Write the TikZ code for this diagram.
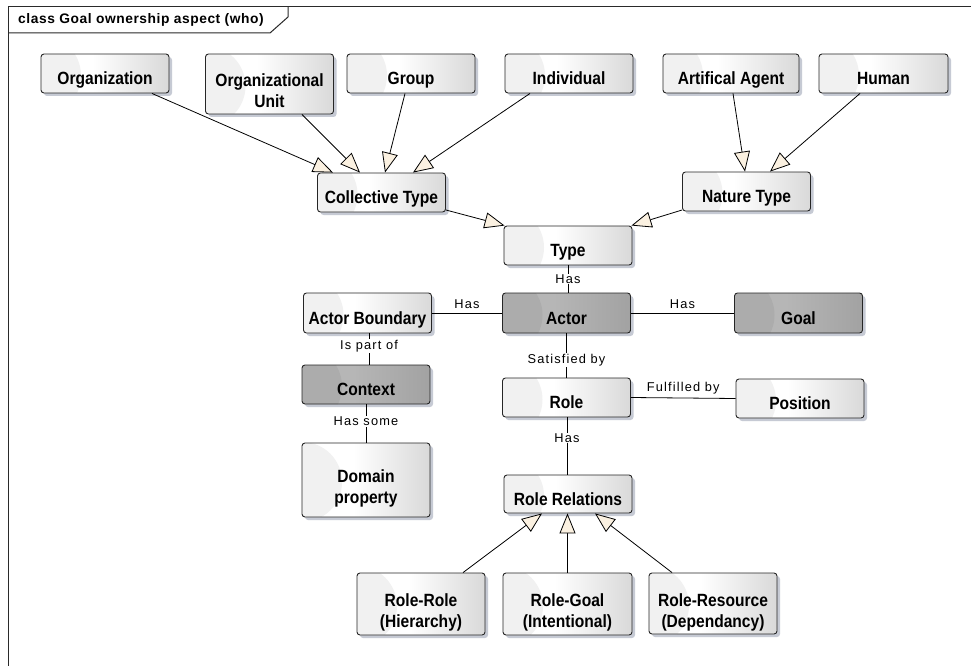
\documentclass[tikz,border=0pt]{standalone}
\usepackage{fontspec}
\setmainfont{Liberation Sans}
\newfontfamily\boxfont[FakeStretch=0.88]{Liberation Sans}
\newfontfamily\labelfont[LetterSpace=9]{Liberation Sans}
\newfontfamily\titlefont[LetterSpace=4]{Liberation Sans}
\usetikzlibrary{arrows.meta,shadows,calc}

\definecolor{paleR}{HTML}{D9D9D9}
\definecolor{paleHl}{HTML}{F1F1F1}
\definecolor{darkM}{HTML}{B6B6B6}
\definecolor{darkR}{HTML}{A2A2A2}
\definecolor{darkHl}{HTML}{ACACAC}
\definecolor{shadowc}{HTML}{C6CAD4}
\definecolor{tipfill}{HTML}{FBF1E1}
\definecolor{frameC}{HTML}{2A2A2A}

% box fills: flat on the left, darkening towards the right edge
\pgfdeclarehorizontalshading{paleshade}{100bp}{color(0bp)=(white); color(45bp)=(white); color(75bp)=(paleR); color(100bp)=(paleR)}
\pgfdeclarehorizontalshading{darkshade}{100bp}{color(0bp)=(darkM); color(45bp)=(darkM); color(75bp)=(darkR); color(100bp)=(darkR)}

% struts that set the text low in a class box
\newcommand\one[1]{\rule[-4pt]{0pt}{30pt}#1}
\newcommand\two[2]{\rule{0pt}{30pt}#1\\#2\rule[-4pt]{0pt}{4pt}}

\tikzset{
  cls/.style={draw=black!85, line width=0.9pt, rounded corners=3pt,
    minimum width=128pt, minimum height=39pt, inner sep=2pt, align=center,
    font=\boxfont\bfseries\fontsize{17.7}{21}\selectfont, text=black,
    shade, shading=paleshade,
    drop shadow={shadow xshift=3pt, shadow yshift=-3pt, fill=shadowc, opacity=1},
    path picture={\fill[paleHl] ([yshift=-2pt]path picture bounding box.west) circle (40pt);}},
  darkcls/.style={cls, shading=darkshade,
    path picture={\fill[darkHl] ([yshift=-2pt]path picture bounding box.west) circle (40pt);}},
  gen/.style={draw=black, line width=0.8pt,
    -{Triangle[length=20pt,width=16pt,fill=tipfill]}},
  assoc/.style={draw=black, line width=0.8pt},
  lbl/.style={font=\labelfont\fontsize{12.8}{14}\selectfont, fill=white, inner sep=1pt, text=black},
  frameline/.style={draw=frameC, line width=1pt},
  titletext/.style={font=\titlefont\bfseries\fontsize{13.8}{15}\selectfont, inner sep=0pt}
}

\begin{document}
\begin{tikzpicture}[x=1pt,y=-1pt]
\useasboundingbox (0,0) rectangle (971,666);
\fill[white] (0,0) rectangle (971,666);

% diagram frame and its name tab
\draw[frameline] (8,690) -- (8,7) -- (990,7);
\draw[frameline] (8,33) -- (270,33) -- (288,17) -- (288,7);
\node[titletext, anchor=west] (title) at (18,20) {class Goal ownership aspect (who)};

% classes
\node[cls] (org) at (105,73.5) {\one{Organization}};
\node[cls, minimum height=60pt] (orgunit) at (269.5,84) {\two{Organizational}{Unit}};
\node[cls] (group) at (411,73.5) {\one{Group}};
\node[cls] (indiv) at (569,73.5) {\one{Individual}};
\node[cls, minimum width=136pt] (agent) at (731,73.5) {\one{Artifical Agent}};
\node[cls, minimum width=129pt] (human) at (883.5,73.5) {\one{Human}};

\node[cls] (coll) at (381.5,192.5) {\one{Collective Type}};
\node[cls] (nature) at (746.5,191.5) {\one{Nature Type}};
\node[cls] (type) at (568,245.5) {\one{Type}};

\node[cls, minimum height=40pt] (ab) at (367.5,313) {\one{Actor Boundary}};
\node[darkcls, minimum height=40pt] (actor) at (566.5,313) {\one{Actor}};
\node[darkcls, minimum height=40pt] (goal) at (798.5,313) {\one{Goal}};

\node[darkcls] (context) at (366,384.5) {\one{Context}};
\node[cls] (role) at (566.5,397.5) {\one{Role}};
\node[cls] (position) at (800,398.5) {\one{Position}};

\node[cls, minimum height=74pt] (domain) at (366,480) {\two{Domain}{property}};
\node[cls, minimum height=38pt] (rr) at (568,494) {\one{Role Relations}};

\node[cls, minimum height=62pt] (rrole) at (421,604) {\two{Role-Role}{(Hierarchy)}};
\node[cls, minimum height=62pt, minimum width=129pt] (rgoal) at (567.5,604) {\two{Role-Goal}{(Intentional)}};
\node[cls, minimum height=61pt] (rres) at (713,603.5) {\two{Role-Resource}{(Dependancy)}};

% generalizations
\draw[gen] ([xshift=47pt]org.south) -- ([xshift=-48.5pt]coll.north);
\draw[gen] ([xshift=32.5pt]orgunit.south) -- ([xshift=-21.5pt]coll.north);
\draw[gen] ([xshift=-6pt]group.south) -- ([xshift=3.5pt]coll.north);
\draw[gen] ([xshift=-39pt]indiv.south) -- ([xshift=31.5pt]coll.north);
\draw[gen] ([xshift=2pt]agent.south) -- ([xshift=-1.5pt]nature.north);
\draw[gen] ([xshift=-23.5pt]human.south) -- ([xshift=23.5pt]nature.north);
\draw[gen] ([yshift=-17.5pt]coll.east) -- ([xshift=1pt]type.north west);
\draw[gen] ([yshift=-18.5pt]nature.west) -- ([xshift=-1pt]type.north east);
\draw[gen] ([xshift=42pt]rrole.north) -- ([xshift=-26pt]rr.south);
\draw[gen] (rgoal.north) -- (rgoal.north |- rr.south);
\draw[gen] ([xshift=-41pt]rres.north) -- ([xshift=27pt]rr.south);

% associations
\draw[assoc] (type.south) -- (type.south |- actor.north)
  node[lbl, pos=0.5] (l1) {Has};
\draw[assoc] (ab.east) -- (actor.west)
  node[lbl, above=3pt, pos=0.5] (l2) {Has};
\draw[assoc] (actor.east) -- (goal.west)
  node[lbl, above=3pt, pos=0.5] (l3) {Has};
\draw[assoc] ([xshift=1.5pt]ab.south) -- ([xshift=1.5pt]ab.south |- context.north)
  node[lbl, pos=0.4] (l4) {Is part of};
\draw[assoc] (actor.south) -- (role.north)
  node[lbl, pos=0.6] (l5) {Satisfied by};
\draw[assoc] (context.south) -- (domain.north)
  node[lbl, pos=0.45] (l6) {Has some};
\draw[assoc] (role.east) -- (position.west)
  node[lbl, above=2pt, pos=0.5] (l7) {Fulfilled by};
\draw[assoc] ([xshift=0.5pt]role.south) -- ([xshift=0.5pt]role.south |- rr.north)
  node[lbl, pos=0.36] (l8) {Has};
\end{tikzpicture}
\end{document}
